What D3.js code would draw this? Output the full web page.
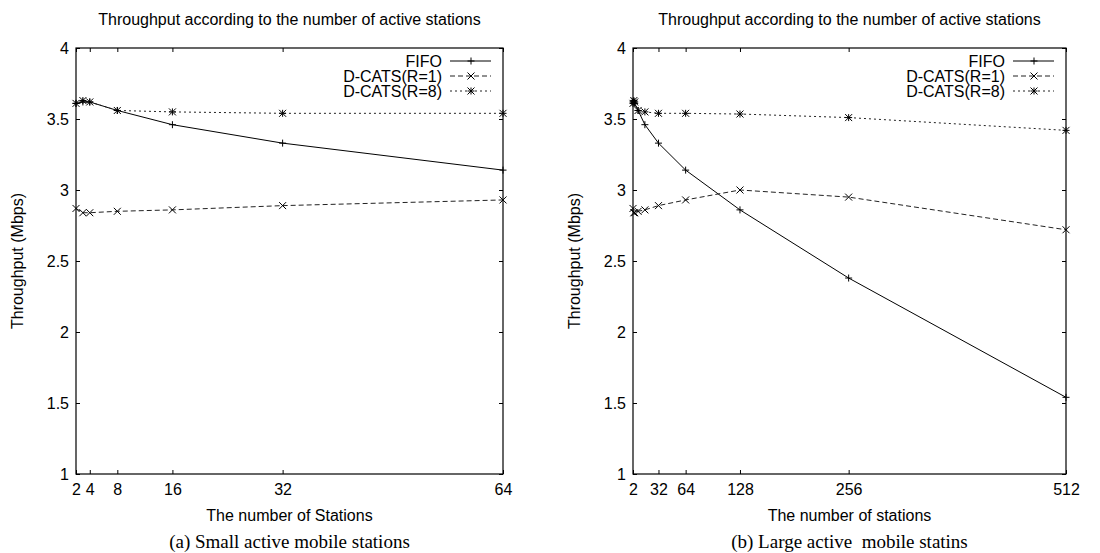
<!DOCTYPE html>
<html>
<head>
<meta charset="utf-8">
<script src="https://cdn.jsdelivr.net/npm/d3@7"></script>
<style>
  body { margin: 0; background: #fff; }
  svg { display: block; }
  text { font-family: "Liberation Sans", Arial, sans-serif; fill: #000; }
  .caption { font-family: "Liberation Serif", "Times New Roman", serif; font-size: 19px; white-space: pre; }
</style>
</head>
<body>
<svg id="chart" width="1100" height="553"></svg>
<script>
// Panel (a): small number of stations
const stationsA = [2, 3, 4, 8, 16, 32, 64];
const fifoA   = [3.61, 3.62, 3.62, 3.56, 3.46, 3.33, 3.14];
const cats1A  = [2.87, 2.84, 2.84, 2.85, 2.86, 2.89, 2.93];
const cats8A  = [3.61, 3.63, 3.62, 3.56, 3.55, 3.54, 3.54];
const xTicksA = [2, 4, 8, 16, 32, 64];

// Panel (b): large number of stations
const stationsB = [2, 3, 4, 8, 16, 32, 64, 128, 256, 512];
const fifoB   = [3.62, 3.62, 3.61, 3.56, 3.46, 3.33, 3.14, 2.86, 2.38, 1.54];
const cats1B  = [2.87, 2.84, 2.84, 2.85, 2.86, 2.89, 2.93, 3.00, 2.95, 2.72];
const cats8B  = [3.61, 3.63, 3.62, 3.56, 3.55, 3.54, 3.54, 3.535, 3.51, 3.42];
const xTicksB = [2, 32, 64, 128, 256, 512];

const yTicks = [1, 1.5, 2, 2.5, 3, 3.5, 4];
const seriesNames = ["FIFO", "D-CATS(R=1)", "D-CATS(R=8)"];
const title = "Throughput according to the number of active stations";

const svg = d3.select("#chart");

// gnuplot-style point markers
function marker(kind, x, y, s) {
  const plus = `M${x - s},${y}h${2 * s}M${x},${y - s}v${2 * s}`;
  const cross = `M${x - s},${y - s}l${2 * s},${2 * s}M${x - s},${y + s}l${2 * s},${-2 * s}`;
  if (kind === 0) return plus;
  if (kind === 1) return cross;
  return plus + cross;
}

const styles = [
  { dash: null, color: "#000" },
  { dash: "5,3", color: "#222" },
  { dash: "2,3", color: "#222" }
];

function drawPanel(cfg) {
  const { left, right, top, bottom } = cfg;
  const g = svg.append("g");

  const x = d3.scaleLinear().domain(cfg.xDomain).range([left, right]);
  const y = d3.scaleLinear().domain([1, 4]).range([bottom, top]);

  // title
  g.append("text")
    .attr("x", (left + right) / 2)
    .attr("y", 25)
    .attr("text-anchor", "middle")
    .style("font-size", "16px")
    .text(title);

  // axes with inward ticks
  g.append("g").attr("transform", `translate(${left},0)`)
    .call(d3.axisLeft(y).tickValues(yTicks).tickSizeInner(-4).tickSizeOuter(0).tickPadding(7).tickFormat(d => String(d)));
  g.append("g").attr("transform", `translate(${right},0)`)
    .call(d3.axisRight(y).tickValues(yTicks).tickSizeInner(-4).tickSizeOuter(0).tickFormat(""));
  g.append("g").attr("transform", `translate(0,${bottom})`)
    .call(d3.axisBottom(x).tickValues(cfg.xTicks).tickSizeInner(-4).tickSizeOuter(0).tickPadding(10).tickFormat(d => String(d)));
  g.append("g").attr("transform", `translate(0,${top})`)
    .call(d3.axisTop(x).tickValues(cfg.xTicks).tickSizeInner(-4).tickSizeOuter(0).tickFormat(""));

  g.selectAll(".domain").remove();
  g.selectAll(".tick line").attr("stroke", "#000");
  g.selectAll(".tick text").style("font-size", "16px").attr("font-family", null);

  // frame
  g.append("rect")
    .attr("x", left).attr("y", top)
    .attr("width", right - left).attr("height", bottom - top)
    .attr("fill", "none").attr("stroke", "#000").attr("stroke-width", 1.2);

  // axis labels
  g.append("text")
    .attr("transform", `translate(${left - 53},${(top + bottom) / 2}) rotate(-90)`)
    .attr("text-anchor", "middle")
    .style("font-size", "16px")
    .text("Throughput (Mbps)");
  g.append("text")
    .attr("x", (left + right) / 2)
    .attr("y", 521)
    .attr("text-anchor", "middle")
    .style("font-size", "16px")
    .text(cfg.xLabel);
  g.append("text")
    .attr("class", "caption")
    .attr("x", (left + right) / 2)
    .attr("y", 548)
    .attr("text-anchor", "middle")
    .text(cfg.caption);

  // series
  cfg.series.forEach((vals, i) => {
    const pts = cfg.stations.map((s, j) => [s, vals[j]]);
    const line = d3.line().x(d => x(d[0])).y(d => y(d[1]));
    g.append("path")
      .datum(pts)
      .attr("fill", "none")
      .attr("stroke", styles[i].color)
      .attr("stroke-width", 1)
      .attr("stroke-dasharray", styles[i].dash)
      .attr("d", line);
    g.append("path")
      .attr("fill", "none")
      .attr("stroke", "#000")
      .attr("stroke-width", 1)
      .attr("d", pts.map(d => marker(i, x(d[0]), y(d[1]), 3.5)).join(""));
  });

  // legend
  const lg = g.append("g");
  seriesNames.forEach((name, i) => {
    const ly = top + 13 + i * 15;
    lg.append("text")
      .attr("x", right - 61)
      .attr("y", ly)
      .attr("dy", "0.36em")
      .attr("text-anchor", "end")
      .style("font-size", "16px")
      .text(name);
    lg.append("line")
      .attr("x1", right - 53).attr("x2", right - 12)
      .attr("y1", ly).attr("y2", ly)
      .attr("stroke", styles[i].color)
      .attr("stroke-dasharray", styles[i].dash);
    lg.append("path")
      .attr("fill", "none").attr("stroke", "#000")
      .attr("d", marker(i, right - 32, ly, 3.5));
  });
}

drawPanel({
  left: 76, right: 503, top: 48, bottom: 474,
  xDomain: [2, 64], xTicks: xTicksA, stations: stationsA,
  series: [fifoA, cats1A, cats8A],
  xLabel: "The number of Stations",
  caption: "(a) Small active mobile stations"
});

drawPanel({
  left: 633, right: 1066, top: 48, bottom: 474,
  xDomain: [2, 512], xTicks: xTicksB, stations: stationsB,
  series: [fifoB, cats1B, cats8B],
  xLabel: "The number of stations",
  caption: "(b) Large active  mobile statins"
});
</script>
</body>
</html>
